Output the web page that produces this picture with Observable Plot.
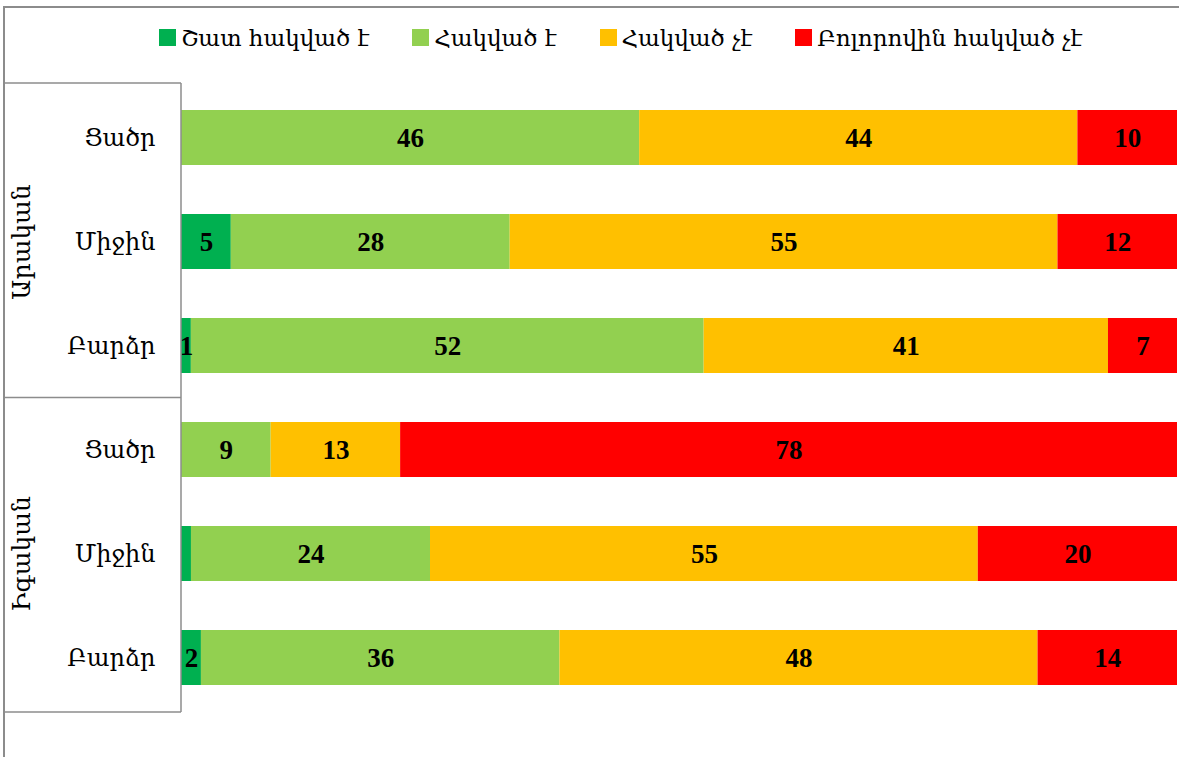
<!DOCTYPE html>
<html>
<head>
<meta charset="utf-8">
<script src="https://cdn.jsdelivr.net/npm/d3@7"></script>
<script src="https://cdn.jsdelivr.net/npm/@observablehq/plot@0.6"></script>
<style>
  html, body { margin: 0; padding: 0; background: #fff; overflow: hidden; }
  #wrap { position: absolute; left: 3px; top: 6px; width: 1180px; height: 760px;
          border-top: 2px solid #8c8c8c; border-left: 2px solid #8c8c8c; }
  #legend { height: 73px; display: flex; align-items: center; gap: 43px; padding-left: 154px;
            font-family: "DejaVu Serif", serif; font-size: 23px; color: #000; box-sizing: border-box; padding-bottom: 14px; }
  .item { display: flex; align-items: center; gap: 5px; white-space: nowrap; }
  .sw { width: 17px; height: 17px; display: inline-block; }
  svg { display: block; }
</style>
</head>
<body>
<div id="wrap">
  <div id="legend"></div>
  <div id="chart"></div>
</div>
<script>
const groups = ["Արական", "Իգական"];
const levels = ["Ցածր", "Միջին", "Բարձր"];
const series = ["Շատ հակված է", "Հակված է", "Հակված չէ", "Բոլորովին հակված չէ"];
const colors = ["#00B050", "#92D050", "#FFC000", "#FF0000"];
// rows: Արական Ցածր, Միջին, Բարձր, Իգական Ցածր, Միջին, Բարձր
const veryInclined = [0, 5, 1, 0, 1, 2];
const inclined     = [46, 28, 52, 9, 24, 36];
const notInclined  = [44, 55, 41, 13, 55, 48];
const notAtAll     = [10, 12, 7, 78, 20, 14];
// labels not printed in the original (row index, series index)
const hiddenLabels = [[4, 0]];

const rowKeys = [];
groups.forEach(g => levels.forEach(l => rowKeys.push(g + "|" + l)));
const seriesValues = [veryInclined, inclined, notInclined, notAtAll];

const data = [];
rowKeys.forEach((row, i) => {
  series.forEach((s, j) => {
    const v = seriesValues[j][i];
    const hidden = hiddenLabels.some(([r, c]) => r === i && c === j);
    data.push({row, series: s, value: v, label: (v > 0 && !hidden) ? String(v) : null});
  });
});

// legend
const legend = document.getElementById("legend");
series.forEach((s, j) => {
  const it = document.createElement("div");
  it.className = "item";
  it.innerHTML = `<span class="sw" style="background:${colors[j]}"></span><span>${s}</span>`;
  legend.appendChild(it);
});

const W = 1174, H = 676, mL = 176, mR = 2, mT = 2, mB = 45;
const plot = Plot.plot({
  width: W, height: H,
  marginLeft: mL, marginRight: mR, marginTop: mT, marginBottom: mB,
  x: {domain: [0, 1], axis: null},
  y: {domain: rowKeys, paddingInner: 0.475, paddingOuter: 0.25, tickFormat: k => k.split("|")[1],
      tickSize: 0, tickPadding: 26, label: null},
  color: {domain: series, range: colors},
  style: {fontFamily: "DejaVu Serif", fontSize: "24px", color: "#000", background: "transparent"},
  marks: [
    Plot.barX(data, Plot.stackX({x: "value", y: "row", fill: "series", order: series, offset: "normalize"})),
    Plot.text(data, Plot.stackX({x: "value", y: "row", z: "series", order: series, offset: "normalize",
      text: "label", fill: "#000", fontWeight: "bold", fontSize: 27, fontFamily: "Liberation Serif"})),
    Plot.text(groups, {y: g => g + "|" + levels[1], text: d => d, frameAnchor: "left", textAnchor: "middle",
      dx: -160, rotate: -90, fontSize: 25, fill: "#000"})
  ]
});

// category box lines (group separators) from the y scale
const ys = plot.scale("y");
const yTop = mT, yBottom = H - mB;
const yMid = (ys.apply(rowKeys[2]) + ys.bandwidth + ys.apply(rowKeys[3])) / 2;
const svgSel = d3.select(plot);
const lines = svgSel.append("g").attr("stroke", "#8c8c8c").attr("stroke-width", 1.5);
[yTop, yMid, yBottom].forEach(yv => lines.append("line").attr("x1", 0).attr("x2", mL).attr("y1", yv).attr("y2", yv));
lines.append("line").attr("x1", mL).attr("x2", mL).attr("y1", yTop).attr("y2", yBottom);

document.getElementById("chart").appendChild(plot);
</script>
</body>
</html>
